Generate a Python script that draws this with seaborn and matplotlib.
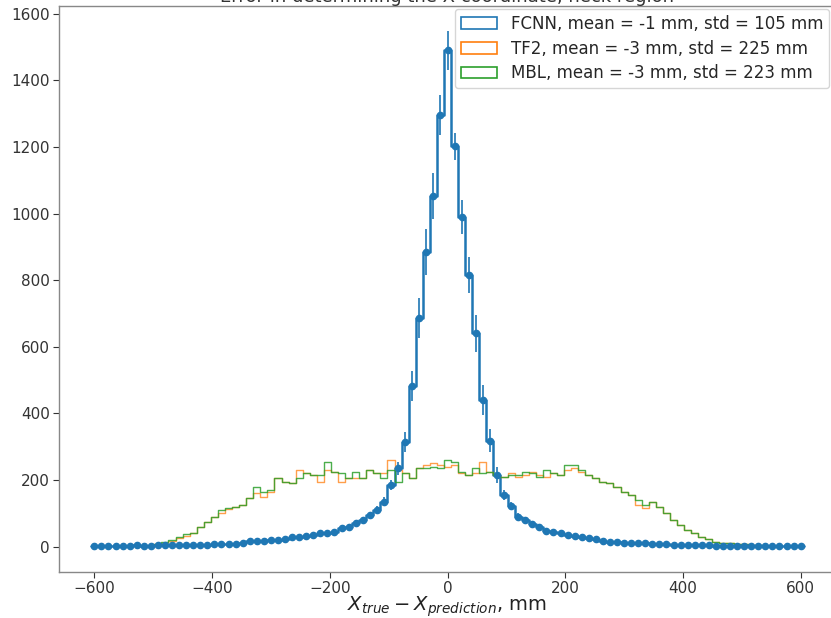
import numpy as np
import pandas as pd
import matplotlib
matplotlib.use("Agg")
import matplotlib.pyplot as plt
import seaborn as sns
from matplotlib.patches import Patch

# 12 mm bins centred on multiples of 12 mm
bin_width = 12
fcnn_centers = np.arange(-600, 601, bin_width)
fcnn_counts = [
    2, 1, 3, 2, 3, 2, 4, 3, 2, 4, 5, 4, 6,
    6, 6, 6, 6, 8, 8, 9, 9, 11, 16, 18, 18, 19, 21, 24, 28, 30, 32, 35, 40,
    42, 45, 55, 60, 70, 80, 95, 110, 135, 185, 235, 315, 482, 685, 885, 1053, 1295,
    1490,
    1202, 990, 815, 640, 440, 318, 215, 155, 122, 90, 80, 68, 58, 48, 45, 40, 35,
    32, 30, 25, 23, 18, 15, 15, 12, 12, 10, 10, 8, 8, 7, 6, 6, 5, 5, 4, 4, 3, 3,
    2, 3, 2, 2, 1, 2, 1, 1, 2, 1, 1,
]
fcnn_err = [
    2, 1, 2, 2, 2, 2, 2, 2, 2, 2, 2, 2, 3,
    3, 3, 3, 3, 3, 3, 3, 3, 4, 4, 5, 5, 5, 5, 5, 6, 6, 6, 6, 7,
    7, 7, 8, 8, 9, 10, 10, 12, 14, 16, 20, 30, 45, 60, 70, 70, 60,
    58,
    40, 50, 55, 55, 45, 35, 25, 15, 12, 10, 9, 8, 8, 7, 7, 6, 6,
    6, 5, 5, 5, 4, 4, 4, 3, 3, 3, 3, 3, 3, 3, 2, 2, 2, 2, 2, 2, 2, 2,
    2, 2, 2, 2, 1, 2, 1, 1, 2, 1, 1,
]

# TF2 / MBL share bins centred from -492 mm to 540 mm
ref_centers = np.arange(-492, 541, bin_width)
tf2_counts = [
    8, 12, 18, 25, 32, 42, 58, 75, 90, 100, 112, 120, 125, 145, 160, 150, 165,
    205, 195, 190, 230, 220, 215, 195, 230, 225, 195, 205, 205, 205, 230, 220,
    220, 260, 230, 220, 205, 235, 245, 250, 245,
    240,
    245, 220, 215, 220, 255, 225, 215, 210, 220, 210, 215, 225, 215, 210, 220,
    215, 230, 235, 225, 215, 205, 195, 190, 180, 165, 155, 125, 115, 135, 120,
    100, 80, 65, 50, 40, 30, 22, 15, 12, 10, 8, 7, 6, 5, 3,
]
mbl_counts = [
    8, 14, 20, 28, 38, 42, 60, 75, 90, 110, 115, 120, 125, 146, 180, 165, 170,
    206, 195, 190, 205, 220, 215, 215, 255, 225, 220, 205, 225, 205, 230, 220,
    205, 230, 195, 220, 205, 235, 235, 240, 235,
    260,
    255, 225, 215, 235, 220, 225, 215, 210, 215, 215, 225, 220, 210, 230, 220,
    215, 245, 245, 230, 215, 205, 195, 190, 180, 165, 155, 140, 125, 135, 120,
    100, 80, 65, 50, 40, 30, 22, 15, 12, 10, 8, 7, 6, 5, 3,
]

labels = [
    "FCNN, mean = -1 mm, std = 105 mm",
    "TF2, mean = -3 mm, std = 225 mm",
    "MBL, mean = -3 mm, std = 223 mm",
]
colors = ["#1f77b4", "#ff7f0e", "#2ca02c"]

sns.set_style("ticks")
plt.rcParams["font.family"] = ["DejaVu Sans"]

fig = plt.figure(figsize=(8.31, 6.18), dpi=100)
ax = fig.add_axes([59 / 831, 46 / 618, 777 / 831, 566 / 618])

fcnn_df = pd.DataFrame({"x": fcnn_centers, "n": fcnn_counts})
tf2_df = pd.DataFrame({"x": ref_centers, "n": tf2_counts})
mbl_df = pd.DataFrame({"x": ref_centers, "n": mbl_counts})

half = bin_width / 2
sns.histplot(data=fcnn_df, x="x", weights="n", binwidth=bin_width,
             binrange=(fcnn_centers[0] - half, fcnn_centers[-1] + half),
             element="step", fill=False, color=colors[0], linewidth=1.8, ax=ax)
sns.histplot(data=tf2_df, x="x", weights="n", binwidth=bin_width,
             binrange=(ref_centers[0] - half, ref_centers[-1] + half),
             element="step", fill=False, color=colors[1], linewidth=1.0,
             alpha=0.75, ax=ax)
sns.histplot(data=mbl_df, x="x", weights="n", binwidth=bin_width,
             binrange=(ref_centers[0] - half, ref_centers[-1] + half),
             element="step", fill=False, color=colors[2], linewidth=1.0,
             alpha=0.85, ax=ax)
ax.errorbar(fcnn_centers, fcnn_counts, yerr=fcnn_err, fmt="o", ms=4.5,
            color=colors[0], elinewidth=1.2, capsize=0, zorder=3)

ax.set_xlim(-660, 660)
ax.set_ylim(-76, 1623)
ax.set_xticks([-600, -400, -200, 0, 200, 400, 600])
ax.set_yticks(range(0, 1601, 200))
ax.tick_params(labelsize=11, colors="#333333", length=4, width=0.8, pad=2.5)
for s in ax.spines.values():
    s.set_color("#888888")
    s.set_linewidth(1.0)
ax.set_ylabel("")
ax.set_xlabel(r"$X_{true} - X_{prediction}$, mm", fontsize=14, color="#222222",
              labelpad=-1)
ax.set_title("Error in determining the X coordinate, neck region", fontsize=13,
             pad=2, color="#333333")

handles = [Patch(facecolor="white", edgecolor=c, linewidth=1.2) for c in colors]
leg = ax.legend(handles, labels, loc="upper right", fontsize=12, frameon=True,
                bbox_to_anchor=(829 / 831, 1 - 9 / 618),
                bbox_transform=fig.transFigure, borderaxespad=0.0,
                handlelength=2.2, labelspacing=0.4, borderpad=0.35)
leg.get_frame().set_edgecolor("#cccccc")

fig.savefig("out.png", dpi=100)
